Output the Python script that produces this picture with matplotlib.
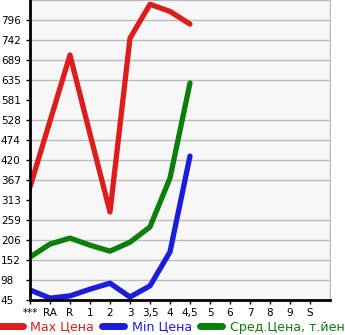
import matplotlib.pyplot as plt

# Категорії по осі X
categories = ['***', 'RA', 'R', '1', '2', '3', '3,5', '4', '4,5', '5', '6', '7', '8', '9', 'S']

# Значення серій (тільки перші 9 категорій мають дані)
max_price = [348, 525, 702, 490, 281, 747, 838, 819, 785]
min_price = [72, 50, 56, 74, 90, 53, 83, 174, 431]
avg_price = [160, 195, 211, 192, 176, 200, 241, 372, 627]

y_ticks = [45, 98.6, 152.3, 205.9, 259.6, 313.2, 366.9, 420.5, 474.1, 527.8,
           581.4, 635.1, 688.7, 742.4, 796]
y_labels = ['45', '98', '152', '206', '259', '313', '367', '420', '474', '528',
            '581', '635', '689', '742', '796']

fig = plt.figure(figsize=(3.45, 3.35), dpi=100)
ax = fig.add_axes([30 / 345, 35 / 335, 300 / 345, 300 / 335])
ax.set_facecolor('#f7f7f7')

x = list(range(len(max_price)))
ax.plot(x, max_price, color='#dd1c1c', lw=3.8, solid_capstyle='round', label='Max Цена')
ax.plot(x, min_price, color='#1c1cdd', lw=3.8, solid_capstyle='round', label='Min Цена')
ax.plot(x, avg_price, color='#0a800a', lw=3.8, solid_capstyle='round', label='Сред.Цена, т.йен')

ax.set_xlim(0, 15)
ax.set_ylim(45, 849.6)
ax.set_xticks(range(len(categories)))
ax.set_xticklabels(categories)
ax.set_xticks(range(16), minor=True)
ax.set_yticks(y_ticks)
ax.set_yticklabels(y_labels, ha='left')
ax.set_yticks([45 + 53.64 * i for i in range(16)], minor=True)

ax.grid(True, which='minor', color='#bbbbbb', lw=1)
ax.tick_params(axis='y', which='major', length=3, width=1, pad=18, labelsize=7.5)
ax.tick_params(axis='x', which='major', length=3, width=1, pad=3, labelsize=7.5)
ax.tick_params(which='minor', length=0)

for side in ['left', 'bottom']:
    ax.spines[side].set_color('black')
    ax.spines[side].set_linewidth(2)
ax.spines['right'].set_color('#bbbbbb')
ax.spines['top'].set_visible(False)

leg = fig.legend(loc='center left', bbox_to_anchor=(0.0, 8 / 335), ncol=3, frameon=False,
                 fontsize=9.1, handlelength=1.8, handletextpad=0.6, columnspacing=0.6,
                 borderpad=0, borderaxespad=0, labelcolor='linecolor')
for line in leg.get_lines():
    line.set_linewidth(5)

fig.savefig('out.png', dpi=100)
